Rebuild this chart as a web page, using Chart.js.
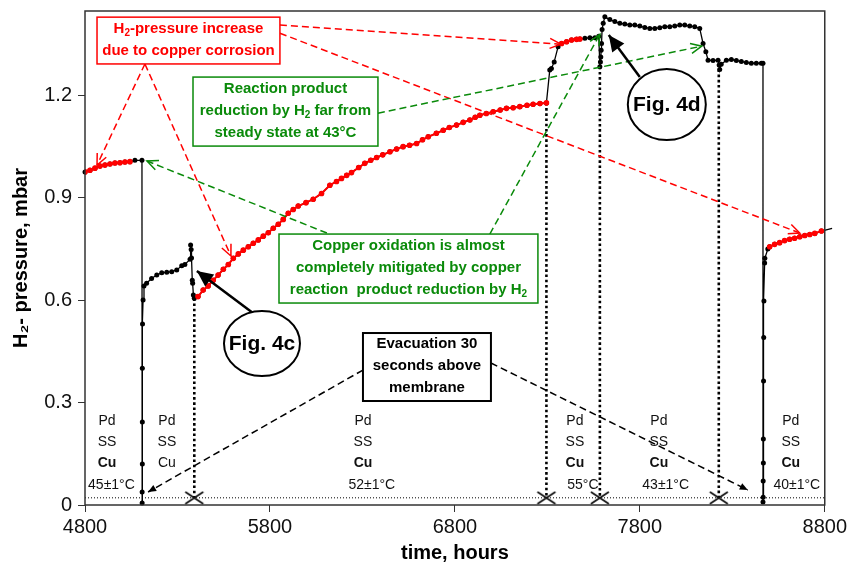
<!DOCTYPE html>
<html lang="en">
<head>
<meta charset="UTF-8">
<title>H2 pressure vs time</title>
<style>
  body { margin: 0; background: #fff; }
  #wrap { width: 850px; height: 564px; }
</style>
</head>
<body>
<div id="wrap">
    <canvas id="myChart"></canvas>
</div>

<script src="https://cdn.jsdelivr.net/npm/chart.js"></script>

<script>
    const FONT = 'Arial, "Liberation Sans", sans-serif';
    const RED = '#ff0000';
    const GREEN = '#0a8a0a';

    // axis ticks
    const xTicks = [4800, 5800, 6800, 7800, 8800];
    const yTicks = [0, 0.3, 0.6, 0.9, 1.2];

    // red: 45°C, copper corrosion
    const redA_t = [4800, 4827, 4854, 4881, 4908, 4935, 4962, 4989, 5016, 5043];
    const redA_p = [0.975, 0.980, 0.986, 0.992, 0.995, 0.998, 1.001, 1.002, 1.004, 1.005];

    // black: membrane change, refill, Pd/SS/Cu
    const blackA_t = [5070, 5108, 5109, 5109, 5110, 5110, 5110, 5111, 5114, 5119, 5133, 5160, 5188, 5215, 5242, 5269, 5296, 5323, 5340, 5368, 5371, 5374, 5376, 5380, 5382, 5386, 5391];
    const blackA_p = [1.009, 1.009, 0.006, 0.038, 0.120, 0.243, 0.400, 0.530, 0.600, 0.641, 0.649, 0.663, 0.673, 0.680, 0.681, 0.683, 0.688, 0.700, 0.704, 0.719, 0.761, 0.748, 0.723, 0.658, 0.649, 0.615, 0.605];

    // red: 52°C
    const redB_t = [5411, 5439, 5466, 5493, 5520, 5548, 5575, 5602, 5629, 5656, 5683, 5710, 5737, 5764, 5791, 5818, 5845, 5872, 5899, 5926, 5953, 5995, 6034, 6079, 6124, 6160, 6187, 6215, 6241, 6280, 6313, 6345, 6377, 6410, 6449, 6485, 6520, 6555, 6593, 6625, 6656, 6700, 6737, 6770, 6809, 6845, 6881, 6910, 6935, 6970, 7007, 7045, 7079, 7115, 7151, 7190, 7223, 7260, 7295];
    const redB_p = [0.610, 0.629, 0.641, 0.658, 0.673, 0.690, 0.704, 0.722, 0.735, 0.746, 0.756, 0.766, 0.776, 0.787, 0.797, 0.810, 0.822, 0.836, 0.854, 0.865, 0.875, 0.885, 0.895, 0.912, 0.936, 0.947, 0.956, 0.965, 0.973, 0.988, 1.000, 1.009, 1.017, 1.025, 1.034, 1.042, 1.049, 1.053, 1.058, 1.069, 1.078, 1.088, 1.097, 1.105, 1.112, 1.120, 1.127, 1.135, 1.141, 1.146, 1.151, 1.156, 1.161, 1.163, 1.166, 1.170, 1.173, 1.175, 1.177];

    // black: 55°C step
    const blackB_t = [7313, 7322, 7337, 7358];
    const blackB_p = [1.273, 1.278, 1.297, 1.341];

    const redC_t = [7377, 7404, 7431, 7458, 7476];
    const redC_p = [1.351, 1.356, 1.361, 1.363, 1.364];

    // black: 55°C -> 43°C -> evacuation -> 40°C refill
    const blackC_t = [7503, 7530, 7557, 7578, 7584, 7587, 7589, 7591, 7593, 7596, 7602, 7611, 7638, 7665, 7692, 7719, 7746, 7773, 7800, 7827, 7854, 7881, 7908, 7935, 7962, 7989, 8016, 8043, 8070, 8097, 8124, 8142, 8157, 8169, 8196, 8223, 8229, 8232, 8240, 8268, 8295, 8322, 8349, 8376, 8403, 8430, 8457, 8466, 8466, 8467, 8467, 8468, 8468, 8469, 8470, 8471, 8475, 8476, 8492];
    const blackC_p = [1.366, 1.368, 1.368, 1.372, 1.283, 1.297, 1.311, 1.331, 1.351, 1.392, 1.410, 1.429, 1.421, 1.415, 1.410, 1.408, 1.405, 1.405, 1.402, 1.398, 1.395, 1.395, 1.397, 1.400, 1.400, 1.402, 1.405, 1.405, 1.402, 1.400, 1.395, 1.351, 1.327, 1.302, 1.301, 1.302, 1.288, 1.275, 1.290, 1.302, 1.304, 1.301, 1.298, 1.295, 1.293, 1.293, 1.293, 1.293, 0.009, 0.023, 0.070, 0.123, 0.193, 0.363, 0.490, 0.597, 0.708, 0.722, 0.749];

    // red: 40°C
    const redD_t = [8502, 8529, 8556, 8583, 8610, 8637, 8665, 8692, 8719, 8746, 8782];
    const redD_p = [0.756, 0.763, 0.768, 0.774, 0.778, 0.781, 0.785, 0.789, 0.792, 0.795, 0.802];
    const tail_t = [8840];
    const tail_p = [0.810];

    // evacuations (30 s above membrane)
    const evacT = [5391, 7295, 7584, 8227];
    const evacTop = [0.605, 1.177, 1.283, 1.275];
    const baseline = 0.021;

    const pts = (t, p) => t.map((v, i) => ({x: v, y: p[i]}));
    const blackPath = [].concat(
        pts(redA_t, redA_p), pts(blackA_t, blackA_p), pts(redB_t, redB_p),
        pts(blackB_t, blackB_p), pts(redC_t, redC_p), pts(blackC_t, blackC_p),
        pts(redD_t, redD_p), pts(tail_t, tail_p));

    // X marker for evacuation
    const xMark = document.createElement('canvas');
    xMark.width = 22; xMark.height = 14;
    (function () {
        const c = xMark.getContext('2d');
        c.strokeStyle = '#111'; c.lineWidth = 1.8;
        c.beginPath();
        c.moveTo(2, 1); c.lineTo(20, 13);
        c.moveTo(20, 1); c.lineTo(2, 13);
        c.stroke();
    })();

    const redLine = (t, p) => ({
        data: pts(t, p), borderColor: RED, borderWidth: 2, pointRadius: 2.8,
        pointBackgroundColor: RED, pointBorderWidth: 0, order: 0
    });

    const datasets = [
        redLine(redA_t, redA_p), redLine(redB_t, redB_p),
        redLine(redC_t, redC_p), redLine(redD_t, redD_p),
        {
            data: blackPath, borderColor: '#000', borderWidth: 1.3,
            pointRadius: c => (c.raw && c.raw.x > 8800 ? 0 : 2.5),
            pointBackgroundColor: '#000', pointBorderWidth: 0, order: 1,
            clip: {left: 3, top: 3, right: 8, bottom: 3}
        },
        {
            data: evacT.map(t => ({x: t, y: baseline})), showLine: false,
            pointStyle: xMark, pointRadius: 10, order: 1
        },
        {
            data: [{x: 4800, y: baseline}, {x: 8800, y: baseline}],
            borderColor: '#000', borderWidth: 1, borderDash: [1, 2], pointRadius: 0, order: 3
        }
    ];
    evacT.forEach((t, i) => datasets.push({
        data: [{x: t, y: evacTop[i]}, {x: t, y: baseline}],
        borderColor: '#000', borderWidth: 2.6, borderDash: [2.6, 2.6], pointRadius: 0, order: 2
    }));

    // annotation boxes (data coordinates)
    const boxes = [
        {x0: 4865, x1: 5854, y0: 1.428, y1: 1.291, color: RED, lw: 1.5,
            lines: ['H_{2}-pressure increase', 'due to copper corrosion']},
        {x0: 5384, x1: 6384, y0: 1.2526, y1: 1.0506, color: GREEN, lw: 1.5,
            lines: ['Reaction product', 'reduction by H_{2} far from', 'steady state at 43°C']},
        {x0: 5849, x1: 7249, y0: 0.7931, y1: 0.5912, color: GREEN, lw: 1.5,
            lines: ['Copper oxidation is almost', 'completely mitigated by copper', 'reaction  product reduction by H_{2}']},
        {x0: 6303, x1: 6995, y0: 0.5034, y1: 0.3044, color: '#000', lw: 2,
            lines: ['Evacuation 30', 'seconds above', 'membrane']}
    ];
    // dashed arrows: from -> to
    const arrows = [
        {from: [5124, 1.291], to: [4865, 0.995], color: RED, head: 'open'},
        {from: [5124, 1.291], to: [5589, 0.729], color: RED, head: 'open'},
        {from: [5854, 1.405], to: [7373, 1.349], color: RED, head: 'open'},
        {from: [5854, 1.381], to: [8665, 0.796], color: RED, head: 'open'},
        {from: [6108, 0.796], to: [5135, 1.007], color: GREEN, head: 'open'},
        {from: [6989, 0.793], to: [7584, 1.378], color: GREEN, head: 'open'},
        {from: [6384, 1.147], to: [8135, 1.343], color: GREEN, head: 'open'},
        {from: [6303, 0.395], to: [5141, 0.038], color: '#000', head: 'small'},
        {from: [6995, 0.4156], to: [8384, 0.0439], color: '#000', head: 'small'}
    ];
    const figs = [
        {cx: 5757, cy: 0.4726, rx: 38, ry: 32.5, text: 'Fig. 4c', from: [5708, 0.562], to: [5405, 0.685]},
        {cx: 7946, cy: 1.1721, rx: 39, ry: 35.5, text: 'Fig. 4d', from: [7800, 1.2526], to: [7632, 1.3755]}
    ];
    // membrane stack labels
    const rowY = [0.2458, 0.1844, 0.1229, 0.0585];
    const stacks = [
        {x: 4919, tx: 4943, cu: true, temp: '45±1°C'},
        {x: 5243, tx: 5243, cu: false, temp: ''},
        {x: 6303, tx: 6351, cu: true, temp: '52±1°C'},
        {x: 7449, tx: 7492, cu: true, temp: '55°C'},
        {x: 7903, tx: 7940, cu: true, temp: '43±1°C'},
        {x: 8616, tx: 8649, cu: true, temp: '40±1°C'}
    ];

    function richText(ctx, str, cx, cy, size, bold, color) {
        const parts = str.split(/(_\{[^}]*\})/).filter(s => s).map(s =>
            s.startsWith('_{') ? {t: s.slice(2, -1), sub: true} : {t: s, sub: false});
        const f = sub => (bold ? 'bold ' : '') + (sub ? Math.round(size * 0.68) : size) + 'px ' + FONT;
        let w = 0;
        parts.forEach(p => { ctx.font = f(p.sub); p.w = ctx.measureText(p.t).width; w += p.w; });
        let xx = cx - w / 2;
        ctx.fillStyle = color; ctx.textBaseline = 'middle'; ctx.textAlign = 'left';
        parts.forEach(p => {
            ctx.font = f(p.sub);
            ctx.fillText(p.t, xx, cy + (p.sub ? size * 0.32 : 0));
            xx += p.w;
        });
    }

    function arrowHead(ctx, x0, y0, x1, y1, len, half, filled) {
        const a = Math.atan2(y1 - y0, x1 - x0);
        const ux = Math.cos(a), uy = Math.sin(a);
        const bx = x1 - ux * len, by = y1 - uy * len;
        const px = -uy * half, py = ux * half;
        ctx.setLineDash([]);
        ctx.beginPath();
        ctx.moveTo(bx + px, by + py);
        ctx.lineTo(x1, y1);
        ctx.lineTo(bx - px, by - py);
        if (filled) { ctx.closePath(); ctx.fill(); } else { ctx.stroke(); }
    }

    const overlay = {
        id: 'overlay',
        afterDraw(chart) {
            const {ctx, chartArea: a, scales: {x, y}} = chart;
            const X = t => x.getPixelForValue(t), Y = p => y.getPixelForValue(p);
            ctx.save();

            // plot frame
            ctx.strokeStyle = '#333'; ctx.lineWidth = 1.5;
            ctx.strokeRect(a.left, a.top, a.right - a.left, a.bottom - a.top);

            // stack labels
            stacks.forEach(s => {
                richText(ctx, 'Pd', X(s.x), Y(rowY[0]), 14, false, '#111');
                richText(ctx, 'SS', X(s.x), Y(rowY[1]), 14, false, '#111');
                richText(ctx, 'Cu', X(s.x), Y(rowY[2]), 14, s.cu, '#111');
                if (s.temp) richText(ctx, s.temp, X(s.tx), Y(rowY[3]), 14, false, '#111');
            });

            // dashed arrows
            arrows.forEach(r => {
                const x0 = X(r.from[0]), y0 = Y(r.from[1]), x1 = X(r.to[0]), y1 = Y(r.to[1]);
                ctx.strokeStyle = r.color; ctx.fillStyle = r.color; ctx.lineWidth = 1.5;
                ctx.setLineDash([7, 4]);
                ctx.beginPath(); ctx.moveTo(x0, y0); ctx.lineTo(x1, y1); ctx.stroke();
                if (r.head === 'open') arrowHead(ctx, x0, y0, x1, y1, 11, 5, false);
                else arrowHead(ctx, x0, y0, x1, y1, 8, 3.5, true);
            });

            // boxes
            boxes.forEach(b => {
                const x0 = X(b.x0), x1 = X(b.x1), y0 = Y(b.y0), y1 = Y(b.y1);
                ctx.setLineDash([]);
                ctx.fillStyle = '#fff';
                ctx.fillRect(x0, y0, x1 - x0, y1 - y0);
                ctx.strokeStyle = b.color; ctx.lineWidth = b.lw;
                ctx.strokeRect(x0, y0, x1 - x0, y1 - y0);
                const cy = (y0 + y1) / 2 - 1, step = 22;
                b.lines.forEach((l, i) => {
                    richText(ctx, l, (x0 + x1) / 2, cy + (i - (b.lines.length - 1) / 2) * step, 15, true, b.color);
                });
            });

            // figure callouts
            figs.forEach(f => {
                const cx = X(f.cx), cy = Y(f.cy);
                ctx.setLineDash([]);
                ctx.strokeStyle = '#000'; ctx.fillStyle = '#000'; ctx.lineWidth = 2.5;
                const x0 = X(f.from[0]), y0 = Y(f.from[1]), x1 = X(f.to[0]), y1 = Y(f.to[1]);
                ctx.beginPath(); ctx.moveTo(x0, y0); ctx.lineTo(x1, y1); ctx.stroke();
                arrowHead(ctx, x0, y0, x1, y1, 16, 7.5, true);
                ctx.fillStyle = '#fff';
                ctx.beginPath(); ctx.ellipse(cx, cy, f.rx, f.ry, 0, 0, Math.PI * 2);
                ctx.fill();
                ctx.lineWidth = 2; ctx.stroke();
                richText(ctx, f.text, cx, cy + 1, 21, true, '#000');
            });

            ctx.restore();
        }
    };

    new Chart(document.getElementById('myChart'), {
        type: 'line',
        data: {datasets: datasets},
        options: {
            responsive: true,
            maintainAspectRatio: false,
            animation: false,
            layout: {padding: {left: 0, right: 25, top: 11, bottom: 0}},
            plugins: {legend: {display: false}, tooltip: {enabled: false}},
            scales: {
                x: {
                    type: 'linear', min: 4800, max: 8800,
                    afterBuildTicks: s => { s.ticks = xTicks.map(v => ({value: v})); },
                    afterFit: s => { s.height = 59; },
                    grid: {drawOnChartArea: false, tickLength: 7, color: '#333'},
                    border: {display: false},
                    ticks: {
                        color: '#111', padding: 3, maxRotation: 0,
                        font: {family: FONT, size: 20},
                        callback: v => String(v)
                    },
                    title: {
                        display: true, text: 'time, hours', color: '#000',
                        font: {family: FONT, size: 20, weight: 'bold', lineHeight: 1.1},
                        padding: {top: 0, bottom: 0}
                    }
                },
                y: {
                    type: 'linear', min: 0, max: 1.446,
                    afterBuildTicks: s => { s.ticks = yTicks.map(v => ({value: v})); },
                    afterFit: s => { s.width = 85; s.paddingTop = 0; s.paddingBottom = 0; },
                    grid: {drawOnChartArea: false, tickLength: 7, color: '#333'},
                    border: {display: false},
                    ticks: {
                        color: '#111', padding: 6,
                        font: {family: FONT, size: 20},
                        callback: v => (v === 0 ? '0' : v.toFixed(1))
                    },
                    title: {
                        display: true, text: 'H₂- pressure, mbar', color: '#000',
                        font: {family: FONT, size: 20, weight: 'bold'},
                        padding: {top: 9, bottom: 0}
                    }
                }
            }
        },
        plugins: [overlay]
    });
</script>
</body>
</html>
